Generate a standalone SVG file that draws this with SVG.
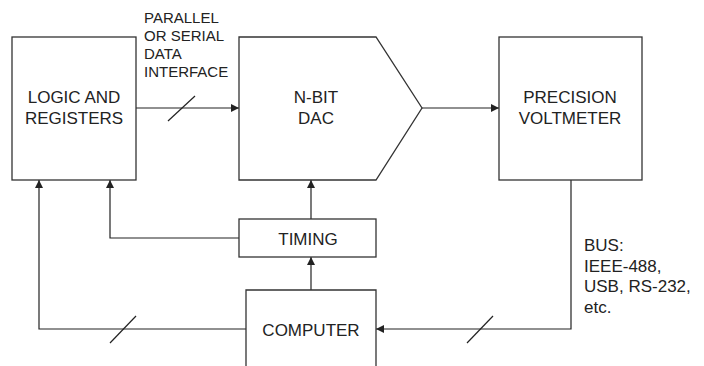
<svg xmlns="http://www.w3.org/2000/svg" width="704" height="366" viewBox="0 0 704 366">
<style>
.box{fill:#fff;stroke:#333;stroke-width:1.3}
.ln{fill:none;stroke:#222;stroke-width:1.2}
.t{font-family:"Liberation Sans",Arial,sans-serif;font-size:17px;fill:#222;text-anchor:middle}
.s{font-family:"Liberation Sans",Arial,sans-serif;font-size:15px;fill:#222}
.b{font-family:"Liberation Sans",Arial,sans-serif;font-size:17px;fill:#222}
</style>
<defs>
<marker id="ah" viewBox="0 0 10 10" refX="10" refY="5" markerWidth="8" markerHeight="8" markerUnits="userSpaceOnUse" orient="auto">
<path d="M0,0 L10,5 L0,10 z" fill="#222"/>
</marker>
</defs>
<rect width="704" height="366" fill="#fff"/>
<g id="connectors">
<path class="ln" d="M136,108 H239" marker-end="url(#ah)"/>
<path class="ln" d="M168,121 L195,96"/>
<path class="ln" d="M422,108 H499" marker-end="url(#ah)"/>
<path class="ln" d="M571,180 V329 H376" marker-end="url(#ah)"/>
<path class="ln" d="M467,343 L493,316"/>
<path class="ln" d="M311,219 V180" marker-end="url(#ah)"/>
<path class="ln" d="M239,238 H110 V180" marker-end="url(#ah)"/>
<path class="ln" d="M311,290 V257" marker-end="url(#ah)"/>
<path class="ln" d="M246,329 H39 V180" marker-end="url(#ah)"/>
<path class="ln" d="M110,343 L136,316"/>
</g>
<g id="label-interface">
<text class="s" x="144" y="23">PARALLEL</text>
<text class="s" x="144" y="41">OR SERIAL</text>
<text class="s" x="144" y="59">DATA</text>
<text class="s" x="144" y="77">INTERFACE</text>
</g>
<g id="label-bus">
<text class="b" x="584" y="251">BUS:</text>
<text class="b" x="584" y="272">IEEE-488,</text>
<text class="b" x="584" y="292">USB, RS-232,</text>
<text class="b" x="584" y="313">etc.</text>
</g>
<g id="logic">
<rect class="box" x="12" y="37" width="124" height="143"/>
<text class="t" x="74" y="103">LOGIC AND</text>
<text class="t" x="74" y="124">REGISTERS</text>
</g>
<g id="dac">
<path class="box" d="M239,37 H376 L422,108 L376,180 H239 Z"/>
<text class="t" x="316" y="103">N-BIT</text>
<text class="t" x="316" y="124">DAC</text>
</g>
<g id="voltmeter">
<rect class="box" x="499" y="37" width="143" height="143"/>
<text class="t" x="570" y="103">PRECISION</text>
<text class="t" x="570" y="124">VOLTMETER</text>
</g>
<g id="timing">
<rect class="box" x="239" y="219" width="137" height="38"/>
<text class="t" x="308" y="245">TIMING</text>
</g>
<g id="computer">
<path class="box" d="M246,367 V290 H376 V367"/>
<text class="t" x="311" y="336">COMPUTER</text>
</g>
</svg>
